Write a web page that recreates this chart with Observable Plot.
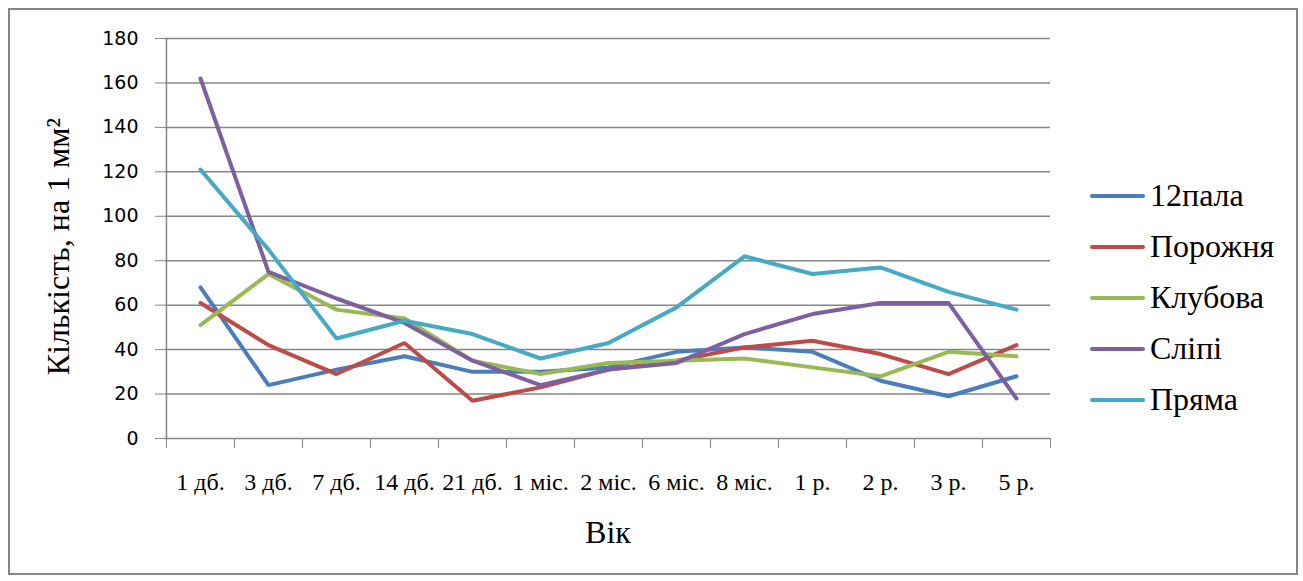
<!DOCTYPE html>
<html><head><meta charset="utf-8">
<script src="https://cdn.jsdelivr.net/npm/d3@7"></script>
<script src="https://cdn.jsdelivr.net/npm/@observablehq/plot@0.6"></script>
<style>
html,body{margin:0;padding:0;background:#fff;}
#wrap{position:relative;width:1303px;height:581px;overflow:hidden;}
#border{position:absolute;left:8px;top:8px;width:1286px;height:563px;border:2px solid #868686;pointer-events:none;}
#legend{position:absolute;left:1090px;top:170px;font-family:"Liberation Serif","Times New Roman",serif !important;font-size:32px;color:#000;}
.item{display:flex;align-items:center;height:51px;line-height:51px;}
.sw{width:55px;height:4px;margin-right:5px;border-radius:2px;}
#wrap svg{position:absolute;left:0;top:0;}
#wrap svg text{font-family:"Liberation Serif","Times New Roman",serif !important;}
#wrap svg g[aria-label='x-axis tick label'] text{font-size:24px !important;}
#wrap svg g[aria-label='y-axis tick label'] text{font-family:"DejaVu Sans","Lato",sans-serif !important;font-size:19px !important;}
#wrap svg g[aria-label='y-axis label'] text, #wrap svg g[aria-label='x-axis label'] text{font-size:32px !important;}
</style></head>
<body><div id="wrap"><div id="border"></div><div id="legend"></div></div>
<script>
const categories = ["1 дб.","3 дб.","7 дб.","14 дб.","21 дб.","1 міс.","2 міс.","6 міс.","8 міс.","1 р.","2 р.","3 р.","5 р."];
const seriesNames = ["12пала","Порожня","Клубова","Сліпі","Пряма"];
const colors = ["#4a7ebb","#be4b48","#98b954","#7d60a0","#46aac5"];
const s12pala  = [68,24,31,37,30,30,32,39,41,39,26,19,28];
const porozhnia = [61,42,29,43,17,23,31,35,41,44,38,29,42];
const klubova  = [51,74,58,54,35,29,34,35,36,32,28,39,37];
const slipi    = [162,75,63,52,35,24,31,34,47,56,61,61,18];
const priama   = [121,85,45,53,47,36,43,59,82,74,77,66,58];
const yTicks = [0,20,40,60,80,100,120,140,160,180];

const seriesValues = [s12pala, porozhnia, klubova, slipi, priama];
const data = [];
seriesNames.forEach((s, i) => categories.forEach((c, j) => data.push({series: s, age: c, value: seriesValues[i][j]})));

const W = 1303, H = 581, mL = 165, mR = 253;
const half = (W - mL - mR) / categories.length / 2;
const grey = "#868686";

const chart = Plot.plot({
  width: W, height: H,
  marginLeft: mL, marginRight: mR, marginTop: 38, marginBottom: 143,
  style: {background: "transparent", overflow: "visible"},
  x: {type: "point", domain: categories, padding: 0.5},
  y: {domain: [0, 180]},
  color: {domain: seriesNames, range: colors},
  marks: [
    Plot.ruleY(yTicks, {stroke: grey, strokeWidth: 1.5, strokeOpacity: 1}),
    Plot.ruleX([categories[0]], {dx: -half, stroke: grey, strokeWidth: 1.5}),
    Plot.axisY({ticks: yTicks, tickSize: 10, tickPadding: 17, stroke: grey, strokeOpacity: 1, tickFormat: d => d, fill: "#000",
      label: "Кількість, на 1 мм²", labelAnchor: "center", labelArrow: "none", labelOffset: 119}),
    Plot.axisX({tickSize: 10, stroke: grey, strokeOpacity: 1, dx: half, tickFormat: () => "", label: null}),
    Plot.axisX({tickSize: 10, stroke: grey, strokeOpacity: 1, dx: -half, tickFormat: () => "", label: null}),
    Plot.axisX({tickSize: 0, tickPadding: 34, fill: "#000",
      label: "Вік", labelAnchor: "center", labelArrow: "none", labelOffset: 104}),
    Plot.line(data, {x: "age", y: "value", z: "series", stroke: "series", strokeWidth: 4, strokeLinejoin: "miter", strokeLinecap: "round"})
  ]
});
const yl = chart.querySelector("g[aria-label='y-axis label']");
if (yl) yl.setAttribute("transform", "translate(0,8) " + (yl.getAttribute("transform") || ""));
document.getElementById("wrap").appendChild(chart);

const legend = document.getElementById("legend");
seriesNames.forEach((s, i) => {
  const it = document.createElement("div"); it.className = "item";
  const sw = document.createElement("div"); sw.className = "sw"; sw.style.background = colors[i];
  const tx = document.createElement("span"); tx.textContent = s;
  it.appendChild(sw); it.appendChild(tx); legend.appendChild(it);
});
</script></body></html>
